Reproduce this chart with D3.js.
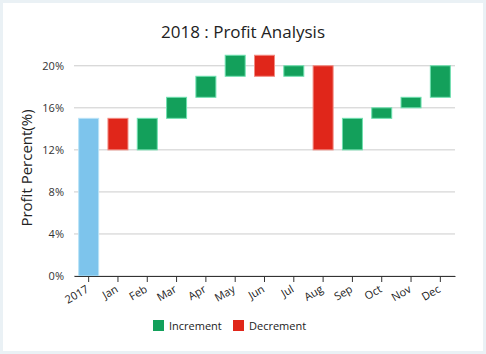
<!DOCTYPE html>
<html>
<head>
<meta charset="utf-8">
<script src="https://cdn.jsdelivr.net/npm/d3@7"></script>
<style>
  html, body { margin: 0; padding: 0; background: #eaf1f5; }
  svg { display: block; font-family: "Open Sans", "Noto Sans", sans-serif; }
</style>
</head>
<body>
<div id="chart"></div>
<script>
const categories = ["2017", "Jan", "Feb", "Mar", "Apr", "May", "Jun", "Jul", "Aug", "Sep", "Oct", "Nov", "Dec"];
// change vs previous step (first value = starting total)
const changes = [15, -3, 3, 2, 2, 2, -2, 1, -8, 3, 1, 1, 3];
const yTicks = [0, 4, 8, 12, 16, 20];

const width = 486, height = 354;
const margin = { top: 50, right: 31, bottom: 78, left: 74 };

const svg = d3.select("#chart").append("svg").attr("width", width).attr("height", height);

svg.append("rect")
  .attr("x", 3).attr("y", 3)
  .attr("width", width - 6).attr("height", height - 6)
  .attr("fill", "#ffffff");

// build the waterfall steps
let running = 0;
const steps = categories.map((c, i) => {
  const start = i === 0 ? 0 : running;
  running = i === 0 ? changes[0] : running + changes[i];
  return { cat: c, start: start, end: running, kind: i === 0 ? "total" : (changes[i] >= 0 ? "inc" : "dec") };
});

const x = d3.scaleBand().domain(categories).range([margin.left, width - margin.right]).paddingInner(0.3).paddingOuter(0.15);
const y = d3.scaleLinear().domain([0, 21.5]).range([height - margin.bottom, margin.top]);

const colors = { total: "#7dc4ec", inc: "#13a05b", dec: "#e0261a" };
const strokes = { total: "#b9e3f7", inc: "#6fe0b0", dec: "#f28a80" };

// gridlines
svg.append("g")
  .selectAll("line")
  .data(yTicks)
  .join("line")
  .attr("x1", margin.left).attr("x2", width - margin.right)
  .attr("y1", d => y(d)).attr("y2", d => y(d))
  .attr("stroke", "#cccccc").attr("stroke-width", 1);

// y axis labels
svg.append("g")
  .selectAll("text")
  .data(yTicks)
  .join("text")
  .attr("x", margin.left - 10)
  .attr("y", d => y(d))
  .attr("dy", "0.35em")
  .attr("text-anchor", "end")
  .attr("font-size", 11)
  .attr("fill", "#333")
  .text(d => d + "%");

// bars
svg.append("g")
  .selectAll("rect")
  .data(steps)
  .join("rect")
  .attr("x", d => x(d.cat) + (x.bandwidth() - 20) / 2)
  .attr("width", 20)
  .attr("y", d => y(Math.max(d.start, d.end)))
  .attr("height", d => Math.abs(y(d.start) - y(d.end)))
  .attr("fill", d => colors[d.kind])
  .attr("stroke", d => strokes[d.kind])
  .attr("stroke-width", 1);

// x axis
const xAxis = svg.append("g")
  .attr("transform", `translate(0,${height - margin.bottom})`)
  .call(d3.axisBottom(x).tickSize(6).tickSizeOuter(0));
xAxis.select(".domain").attr("stroke", "#333");
xAxis.selectAll(".tick line").attr("stroke", "#333");
xAxis.selectAll("text")
  .attr("font-size", 11)
  .attr("font-family", "\"Open Sans\", \"Noto Sans\", sans-serif")
  .attr("fill", "#222")
  .attr("text-anchor", "end")
  .attr("x", 0).attr("y", 0)
  .attr("dy", "0.35em")
  .attr("transform", "translate(-1,12) rotate(-30)");

// title
svg.append("text")
  .attr("x", width / 2).attr("y", 38)
  .attr("text-anchor", "middle")
  .attr("font-size", 17)
  .attr("fill", "#222")
  .text("2018 : Profit Analysis");

// y axis title
svg.append("text")
  .attr("transform", "translate(32,168) rotate(-90)")
  .attr("text-anchor", "middle")
  .attr("font-size", 15)
  .attr("fill", "#222")
  .text("Profit Percent(%)");

// legend
const legendItems = [
  { label: "Increment", color: colors.inc, x: 153 },
  { label: "Decrement", color: colors.dec, x: 233 }
];
const legend = svg.append("g").selectAll("g").data(legendItems).join("g")
  .attr("transform", d => `translate(${d.x},320)`);
legend.append("rect").attr("width", 11).attr("height", 11).attr("fill", d => d.color);
legend.append("text")
  .attr("x", 16).attr("y", 6).attr("dy", "0.35em")
  .attr("font-size", 11).attr("fill", "#222")
  .text(d => d.label);
</script>
</body>
</html>
